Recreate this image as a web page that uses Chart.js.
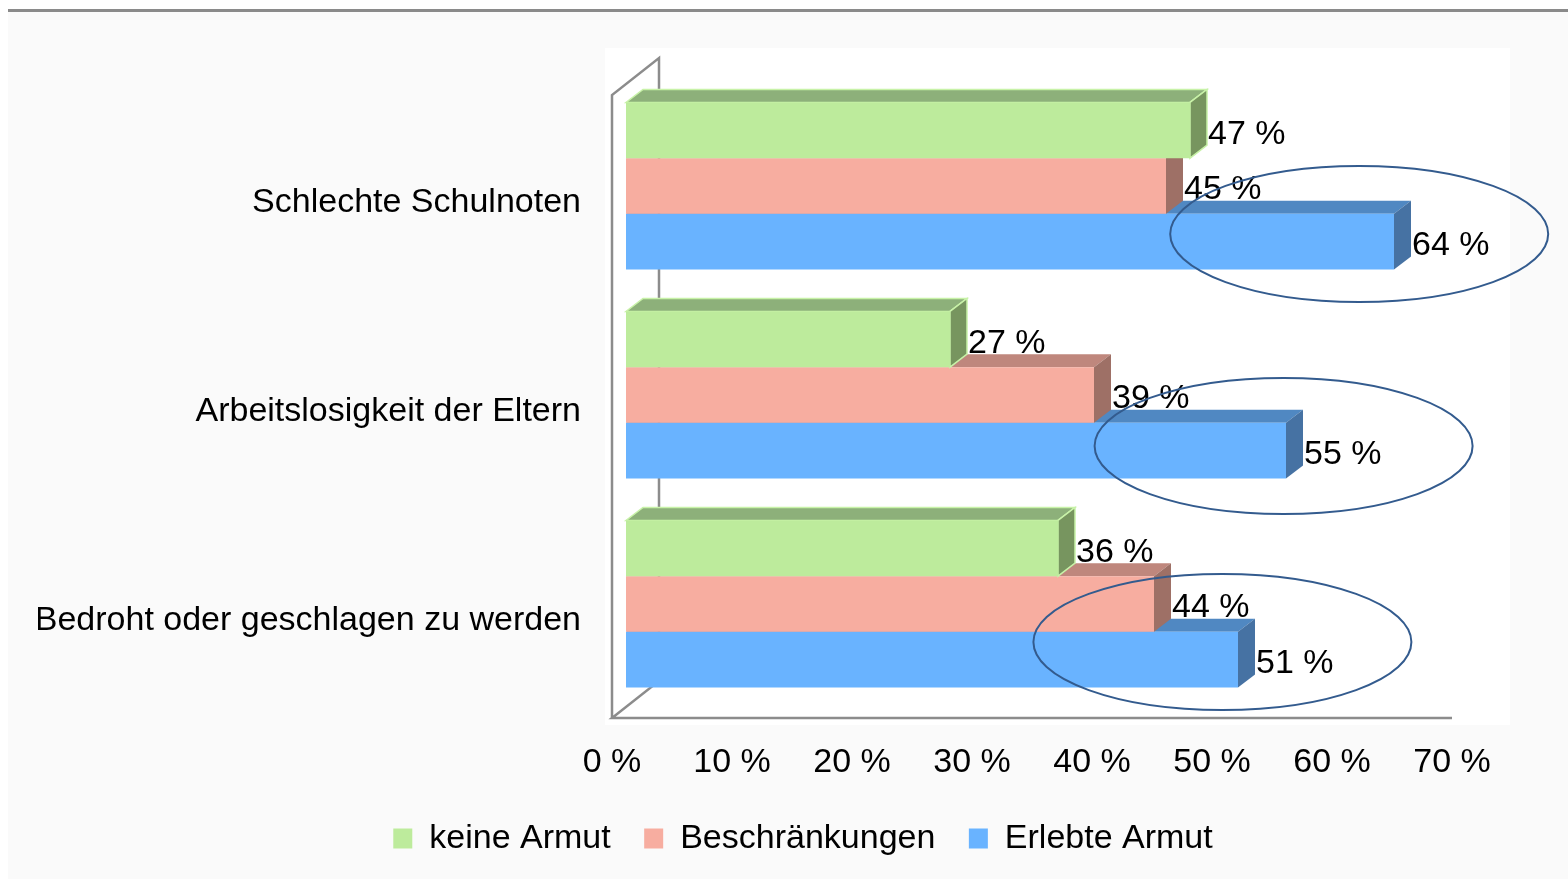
<!DOCTYPE html>
<html>
<head>
<meta charset="utf-8">
<script src="https://cdn.jsdelivr.net/npm/chart.js@4/dist/chart.umd.min.js"></script>
<style>
  body { margin: 0; background: #fff; }
  #panel { position: absolute; left: 8px; top: 9px; width: 1560px; height: 870px;
           background: #fafafa; border-top: 3px solid #8a8a8a; box-sizing: border-box; }
  #chart { position: absolute; left: 0; top: 0; }
</style>
</head>
<body>
<div id="panel"></div>
<canvas id="chart" width="1568" height="879"></canvas>
<script>
// data
const categories = ["Schlechte Schulnoten", "Arbeitslosigkeit der Eltern", "Bedroht oder geschlagen zu werden"];
const keine_armut = [47, 27, 36];
const beschraenkungen = [45, 39, 44];
const erlebte_armut = [64, 55, 51];
const series_names = ["keine Armut", "Beschränkungen", "Erlebte Armut"];
const x_ticks = [0, 10, 20, 30, 40, 50, 60, 70];

// highlight rings around the "Erlebte Armut" bars: x centre in %, y shift in px from the category
const ring_value = [61.1, 54.8, 49.7];
const ring_shift = [48, 51, 38];

const FONT = "'Liberation Sans', Arial, sans-serif";
const FSIZE = 34;
const depth = { dx: 17, dy: -13 };
const faces = [
    { front: "#bdeb9c", top: "#8db07a", side: "#77955f", edge: "#c8f2a8" },
    { front: "#f7ada0", top: "#bf877d", side: "#9e7066", edge: null },
    { front: "#69b3ff", top: "#5088c2", side: "#4672a3", edge: null },
];

function poly(ctx, pts, fill, edge) {
    ctx.beginPath();
    ctx.moveTo(pts[0][0], pts[0][1]);
    for (let i = 1; i < pts.length; i++) { ctx.lineTo(pts[i][0], pts[i][1]); }
    ctx.closePath();
    ctx.fillStyle = fill;
    ctx.fill();
    if (edge) { ctx.strokeStyle = edge; ctx.lineWidth = 1.5; ctx.stroke(); }
}

const bar3d = {
    id: "bar3d",
    beforeDraw(chart) {
        const a = chart.chartArea, ctx = chart.ctx;
        ctx.save();
        ctx.fillStyle = "#ffffff";
        ctx.fillRect(a.left - 21, a.top - 33.5, a.right - a.left + 65, a.bottom - a.top + 50);
        ctx.restore();
    },
    beforeDatasetsDraw(chart) {
        const a = chart.chartArea, ctx = chart.ctx;
        const x0 = a.left - 14, yTop = a.top + 13.5, yBot = a.bottom + 9.5;
        const xEnd = chart.scales.x.getPixelForValue(x_ticks[x_ticks.length - 1]) - 14;
        ctx.save();
        ctx.strokeStyle = "#8c8c8c";
        ctx.lineWidth = 2.5;
        ctx.beginPath();
        ctx.moveTo(x0, yBot); ctx.lineTo(x0, yTop); ctx.lineTo(x0 + 47, yTop - 37);
        ctx.lineTo(x0 + 47, yBot - 37); ctx.lineTo(x0, yBot); ctx.lineTo(xEnd, yBot);
        ctx.stroke();
        ctx.restore();
    },
    beforeDatasetDraw(chart, args) {
        const ctx = chart.ctx, f = faces[args.index];
        ctx.save();
        args.meta.data.forEach(function (el) {
            const p = el.getProps(["x", "y", "base", "height"], true);
            const t = p.y - p.height / 2, b = p.y + p.height / 2;
            poly(ctx, [[p.base, t], [p.x, t], [p.x + depth.dx, t + depth.dy], [p.base + depth.dx, t + depth.dy]], f.top, f.edge);
            poly(ctx, [[p.x, t], [p.x + depth.dx, t + depth.dy], [p.x + depth.dx, b + depth.dy], [p.x, b]], f.side, f.edge);
        });
        ctx.restore();
    },
    afterDatasetsDraw(chart) {
        const ctx = chart.ctx;
        ctx.save();
        ctx.font = FSIZE + "px " + FONT;
        ctx.fillStyle = "#000";
        ctx.textAlign = "left";
        ctx.textBaseline = "middle";
        chart.data.datasets.forEach(function (ds, i) {
            chart.getDatasetMeta(i).data.forEach(function (el, j) {
                const p = el.getProps(["x", "y"], true);
                ctx.fillText(ds.data[j] + " %", p.x + depth.dx + 1, p.y + 4);
            });
        });
        // rings round the last series
        ctx.strokeStyle = "#335b8e";
        ctx.lineWidth = 2;
        categories.forEach(function (c, j) {
            const cx = chart.scales.x.getPixelForValue(ring_value[j]);
            const cy = chart.scales.y.getPixelForValue(j) + ring_shift[j];
            ctx.beginPath();
            ctx.ellipse(cx, cy, 189, 68, 0, 0, Math.PI * 2);
            ctx.stroke();
        });
        ctx.restore();
    }
};

const datasets = [keine_armut, beschraenkungen, erlebte_armut].map(function (vals, i) {
    return {
        label: series_names[i],
        data: vals,
        backgroundColor: faces[i].front,
        borderWidth: 0,
        categoryPercentage: 0.8,
        barPercentage: 1.0,
    };
});

new Chart(document.getElementById("chart"), {
    type: "bar",
    data: { labels: categories, datasets: datasets },
    options: {
        indexAxis: "y",
        responsive: false,
        animation: false,
        layout: { padding: { top: 81.5, bottom: 13.5, left: 38, right: 0 } },
        scales: {
            x: {
                min: 0, max: 70,
                grid: { display: false, drawTicks: false, tickLength: 0 },
                border: { display: false },
                ticks: {
                    stepSize: 10,
                    padding: 34,
                    labelOffset: -14,
                    color: "#000",
                    font: { family: FONT, size: FSIZE },
                    callback: function (v) { return v + " %"; }
                },
                afterFit: function (s) { s.height = 79.5; }
            },
            y: {
                grid: { display: false, drawTicks: false, tickLength: 0 },
                border: { display: false },
                ticks: {
                    padding: 45,
                    labelOffset: 17,
                    color: "#000",
                    font: { family: FONT, size: FSIZE }
                },
                afterFit: function (s) { s.width = 588; }
            },
            yRight: {
                type: "linear",
                position: "right",
                grid: { display: false },
                border: { display: false },
                ticks: { display: false },
                afterFit: function (s) { s.width = 102; }
            }
        },
        plugins: {
            tooltip: { enabled: false },
            legend: {
                position: "bottom",
                labels: {
                    color: "#000",
                    font: { family: FONT, size: FSIZE },
                    boxWidth: 19,
                    boxHeight: 20,
                    padding: 33.5
                }
            }
        }
    },
    plugins: [bar3d]
});
</script>
</body>
</html>
